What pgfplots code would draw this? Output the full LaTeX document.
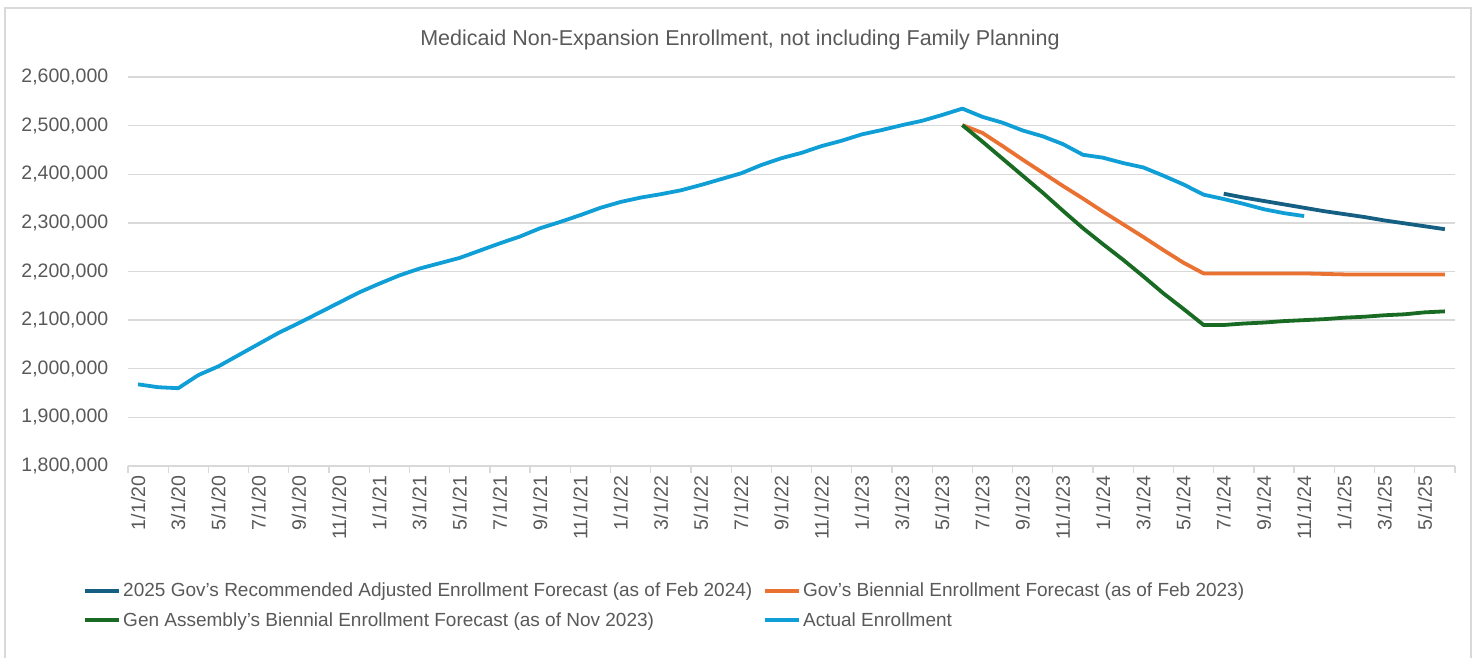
\documentclass[border=0pt]{standalone}
\usepackage{fontspec}
\setmainfont{Liberation Sans}
\usepackage{pgfplots}
\pgfplotsset{compat=1.18}
\definecolor{cDark}{HTML}{156082}
\definecolor{cOrange}{HTML}{E97132}
\definecolor{cGreen}{HTML}{196B24}
\definecolor{cLight}{HTML}{0F9ED5}
\definecolor{cText}{HTML}{595959}
\definecolor{cGrid}{HTML}{D9D9D9}
\begin{document}
\begin{tikzpicture}
\path[use as bounding box] (0pt,0pt) rectangle (1476pt,658pt);
\draw[cGrid, line width=1.2pt] (5pt,-10pt) rectangle (1471pt,650pt);
\node[text=cText, font=\fontsize{21.5}{25}\selectfont] at (740pt,618pt) {Medicaid Non-Expansion Enrollment, not including Family Planning};
\begin{axis}[
  at={(128pt,192pt)}, anchor=south west,
  scale only axis, width=1327pt, height=389pt,
  xmin=-0.5, xmax=65.5, ymin=1800000, ymax=2600000,
  ytick={1800000,1900000,2000000,2100000,2200000,2300000,2400000,2500000,2600000},
  scaled y ticks=false,
  yticklabel style={/pgf/number format/fixed, /pgf/number format/1000 sep={,}, text=cText, font=\fontsize{19.5}{22}\selectfont},
  /pgf/number format/assume math mode=true,
  ymajorgrids, grid style={cGrid, line width=1.3pt},
  axis x line*=bottom, axis y line*=left,
  x axis line style={cGrid, line width=1.3pt},
  y axis line style={draw=none},
  ytick style={draw=none},
  tick align=outside,
  xtick={0,2,...,64},
  xticklabels={1/1/20,3/1/20,5/1/20,7/1/20,9/1/20,11/1/20,1/1/21,3/1/21,5/1/21,7/1/21,9/1/21,11/1/21,1/1/22,3/1/22,5/1/22,7/1/22,9/1/22,11/1/22,1/1/23,3/1/23,5/1/23,7/1/23,9/1/23,11/1/23,1/1/24,3/1/24,5/1/24,7/1/24,9/1/24,11/1/24,1/1/25,3/1/25,5/1/25},
  xticklabel style={rotate=90, anchor=east, text=cText, font=\fontsize{19.5}{22}\selectfont},
  major x tick style={draw=none},
  minor xtick={-0.5,1.5,...,65.5},
  minor tick length=7pt,
  minor x tick style={cGrid, line width=1.3pt},
  yticklabel shift=12pt, xticklabel shift=2pt,
  legend columns=2,
  legend cell align=left,
  legend style={draw=none, fill=none, at={(-0.036,-0.29)}, anchor=north west,
    font=\fontsize{19}{22}\selectfont, text=cText,
    /tikz/every even column/.append style={column sep=9pt},
    row sep=10pt},
  legend image code/.code={\draw[#1, line width=3.8pt] (0pt,0pt) -- (34pt,0pt);},
  every axis plot/.append style={line width=3.8pt, line join=round, mark=none},
]
\addplot[cDark] coordinates {
(54,2360000)(55,2352000)(56,2345000)(57,2338000)(58,2331000)(59,2324000)(60,2318000)(61,2312000)(62,2305000)(63,2299000)(64,2293000)(65,2287000)};
\addlegendentry{2025 Gov's Recommended Adjusted Enrollment Forecast (as of Feb 2024)}
\addplot[cOrange] coordinates {
(41,2501000)(42,2485000)(43,2458000)(44,2430000)(45,2403000)(46,2376000)(47,2350000)(48,2323000)(49,2297000)(50,2271000)(51,2244000)(52,2218000)(53,2196000)(54,2196000)(55,2196000)(56,2196000)(57,2196000)(58,2196000)(59,2195000)(60,2194000)(61,2194000)(62,2194000)(63,2194000)(64,2194000)(65,2194000)};
\addlegendentry{Gov's Biennial Enrollment Forecast (as of Feb 2023)}
\addplot[cGreen] coordinates {
(41,2501000)(42,2467000)(43,2432000)(44,2397000)(45,2362000)(46,2325000)(47,2289000)(48,2256000)(49,2224000)(50,2190000)(51,2155000)(52,2123000)(53,2090000)(54,2090000)(55,2093000)(56,2095000)(57,2098000)(58,2100000)(59,2102000)(60,2105000)(61,2107000)(62,2110000)(63,2112000)(64,2116000)(65,2118000)};
\addlegendentry{Gen Assembly's Biennial Enrollment Forecast (as of Nov 2023)}
\addplot[cLight] coordinates {
(0,1968000)(1,1962000)(2,1960000)(3,1987000)(4,2005000)(5,2028000)(6,2051000)(7,2074000)(8,2094000)(9,2115000)(10,2136000)(11,2157000)(12,2175000)(13,2192000)(14,2206000)(15,2217000)(16,2228000)(17,2243000)(18,2258000)(19,2272000)(20,2289000)(21,2302000)(22,2316000)(23,2331000)(24,2343000)(25,2352000)(26,2359000)(27,2367000)(28,2378000)(29,2390000)(30,2402000)(31,2419000)(32,2433000)(33,2444000)(34,2458000)(35,2469000)(36,2482000)(37,2491000)(38,2501000)(39,2510000)(40,2522000)(41,2535000)(42,2518000)(43,2506000)(44,2490000)(45,2478000)(46,2462000)(47,2440000)(48,2434000)(49,2423000)(50,2414000)(51,2397000)(52,2379000)(53,2358000)(54,2349000)(55,2339000)(56,2328000)(57,2320000)(58,2314000)};
\addlegendentry{Actual Enrollment}
\end{axis}
\end{tikzpicture}
\end{document}
